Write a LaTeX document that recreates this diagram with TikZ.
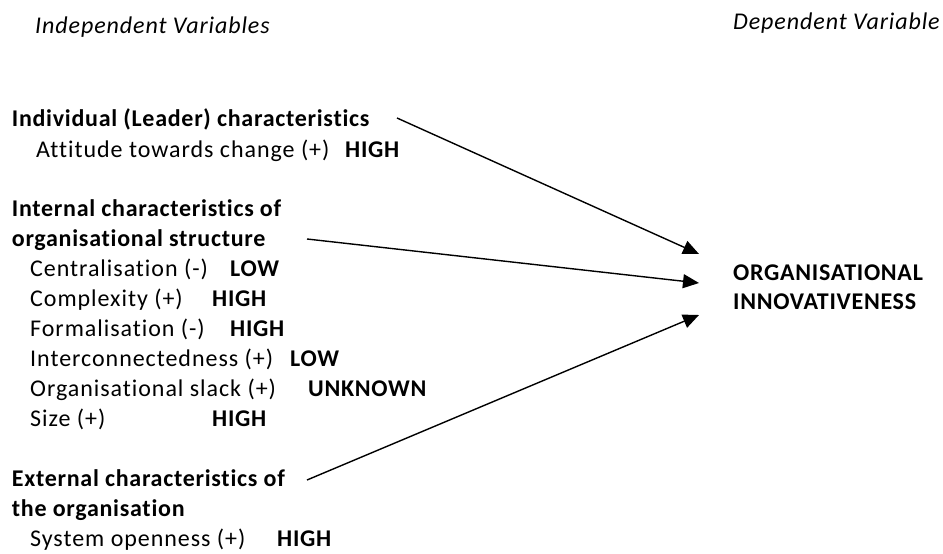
\documentclass[tikz,border=0pt]{standalone}
\usepackage{fontspec}
\setmainfont{Carlito}
% Calibri-like faces with slightly opened tracking, no ligatures
\newfontfamily\regfont{Carlito}[LetterSpace=4,Ligatures=CommonOff]
\newfontfamily\boldfont{Carlito}[LetterSpace=3,Ligatures=CommonOff]
\newfontfamily\itfont{Carlito}[LetterSpace=3.8,Ligatures=CommonOff]
\usetikzlibrary{arrows.meta}
\begin{document}
\begin{tikzpicture}[x=1pt,y=-1pt,
  txt/.style={anchor=base west,inner sep=0pt,font=\fontsize{24}{28}\regfont},
  head/.style={txt,font=\fontsize{24}{28}\boldfont\bfseries},
  lvl/.style={txt,font=\fontsize{24}{28}\boldfont\bfseries},
  captxt/.style={txt,font=\fontsize{24}{28}\itfont\itshape},
  link/.style={line width=1.4pt,-{Triangle[length=16pt,width=14pt]}}]
\useasboundingbox (0,0) rectangle (943,554);

% column captions
\node[captxt] (indep) at (35,33) {Independent Variables};
\node[captxt] (dep) at (733,29.5) {Dependent Variable};

% leader characteristics
\node[head] (lead) at (11.7,126.7) {Individual (Leader) characteristics};
\node[txt] (att) at (36,157.7) {Attitude towards change (+)};
\node[lvl] (attv) at (345,157.7) {HIGH};

% internal characteristics
\node[head] (int1) at (11.7,216.7) {Internal characteristics of};
\node[head] (int2) at (11.7,246.7) {organisational structure};
\node[txt] (cen) at (30,276.7) {Centralisation (-)};
\node[lvl] (cenv) at (230,276.7) {LOW};
\node[txt] (cpx) at (30,306.7) {Complexity (+)};
\node[lvl] (cpxv) at (212,306.7) {HIGH};
\node[txt] (frm) at (30,336.7) {Formalisation (-)};
\node[lvl] (frmv) at (230,336.7) {HIGH};
\node[txt] (icn) at (30,366.7) {Interconnectedness (+)};
\node[lvl] (icnv) at (290,366.7) {LOW};
\node[txt] (slk) at (30,396.7) {Organisational slack (+)};
\node[lvl] (slkv) at (308,396.7) {UNKNOWN};
\node[txt] (siz) at (30,426.7) {Size (+)};
\node[lvl] (sizv) at (212,426.7) {HIGH};

% external characteristics
\node[head] (ext1) at (11.7,486.7) {External characteristics of};
\node[head] (ext2) at (11.7,516.7) {the organisation};
\node[txt] (sys) at (30,546.7) {System openness (+)};
\node[lvl] (sysv) at (277,546.7) {HIGH};

% dependent variable
\node[head] (org1) at (733,280) {ORGANISATIONAL};
\node[head] (org2) at (733,309) {INNOVATIVENESS};

% arrow ends
\coordinate (s1) at (397,118);
\coordinate (s2) at (307,239);
\coordinate (s3) at (307,480);
\coordinate (t1) at (699,254);
\coordinate (t2) at (699,283);
\coordinate (t3) at (699,315);

\draw[link] (s1) -- (t1);
\draw[link] (s2) -- (t2);
\draw[link] (s3) -- (t3);
\end{tikzpicture}
\end{document}
